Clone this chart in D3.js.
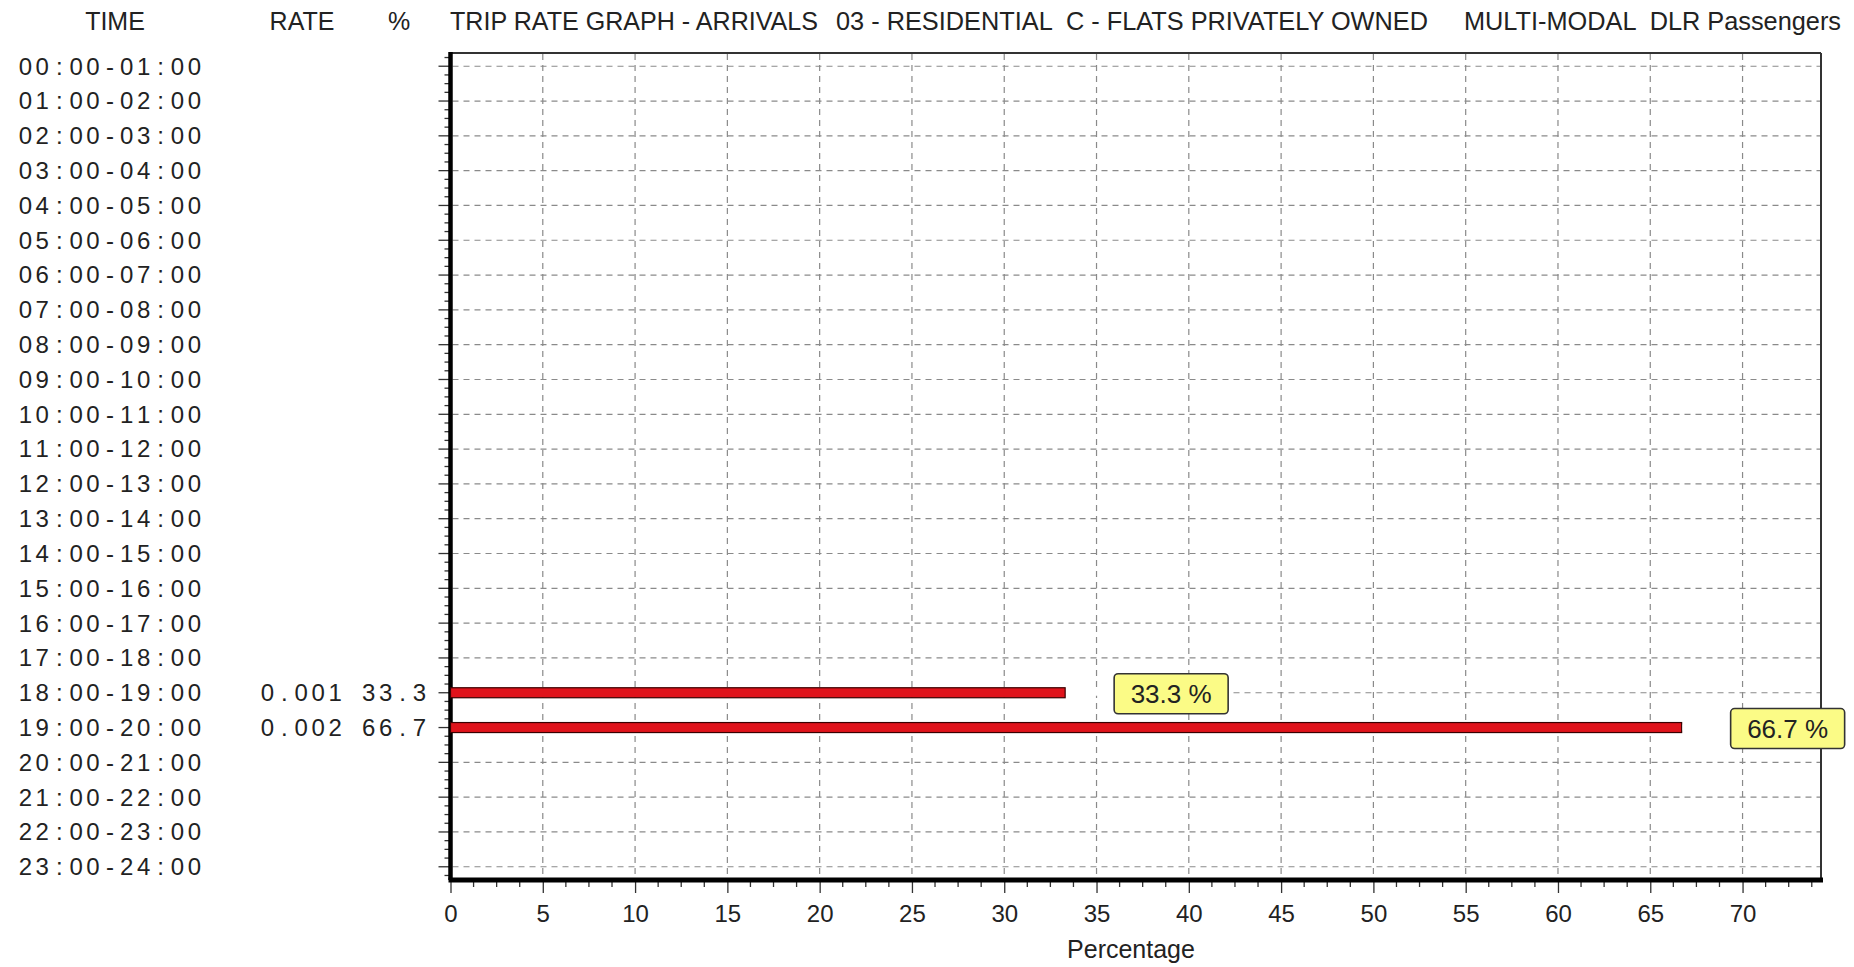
<!DOCTYPE html>
<html><head><meta charset="utf-8">
<script src="https://cdn.jsdelivr.net/npm/d3@7"></script>
<style>body{margin:0;background:#fff}svg{display:block}</style>
</head><body><svg id="c" width="1854" height="967"></svg>
<script>
// ---- data ----
const timeLabels = ["00:00-01:00","01:00-02:00","02:00-03:00","03:00-04:00","04:00-05:00","05:00-06:00",
  "06:00-07:00","07:00-08:00","08:00-09:00","09:00-10:00","10:00-11:00","11:00-12:00",
  "12:00-13:00","13:00-14:00","14:00-15:00","15:00-16:00","16:00-17:00","17:00-18:00",
  "18:00-19:00","19:00-20:00","20:00-21:00","21:00-22:00","22:00-23:00","23:00-24:00"];
const tripRates = [null,null,null,null,null,null,null,null,null,null,null,null,
  null,null,null,null,null,null,"0.001","0.002",null,null,null,null];
const percentages = [null,null,null,null,null,null,null,null,null,null,null,null,
  null,null,null,null,null,null,33.3,66.7,null,null,null,null];
const xTickValues = [0,5,10,15,20,25,30,35,40,45,50,55,60,65,70];
const xMax = 74.25;
const headerLabels = ["TIME","RATE","%"];
const titleParts = ["TRIP RATE GRAPH - ARRIVALS","03 - RESIDENTIAL  C - FLATS PRIVATELY OWNED","MULTI-MODAL  DLR Passengers"];
const xAxisTitle = "Percentage";

// ---- layout ----
const plot = {left:450.5, right:1821, top:53, bottom:880};
const svg = d3.select("#c");
svg.append("rect").attr("width",1854).attr("height",967).attr("fill","#fff");

const x = d3.scaleLinear().domain([0,xMax]).range([plot.left, plot.right]);
const y = d3.scalePoint().domain(timeLabels).range([plot.top, plot.bottom]).padding(0.38);
const step = y.step();

const sans = "'Liberation Sans', Arial, sans-serif";
const ink = "#222";

// headers
const headerX = [115, 302, 399];
svg.selectAll("text.hdr").data(headerLabels).join("text").attr("class","hdr")
  .attr("x",(d,i)=>headerX[i]).attr("y",30).attr("text-anchor","middle")
  .attr("font-family",sans).attr("font-size",25).attr("fill",ink).text(d=>d);

const titleX = [450, 836, 1464];
const titleW = [368, 592, 377];
svg.selectAll("text.ttl").data(titleParts).join("text").attr("class","ttl")
  .attr("x",(d,i)=>titleX[i]).attr("y",30)
  .attr("textLength",(d,i)=>titleW[i]).attr("lengthAdjust","spacingAndGlyphs")
  .attr("font-family",sans).attr("font-size",25).attr("fill",ink)
  .attr("xml:space","preserve").text(d=>d);

// gridlines
const grid = svg.append("g").attr("stroke","#8a8a8a").attr("stroke-width",1.2).attr("stroke-dasharray","6,5");
grid.selectAll("line.h").data(timeLabels).join("line").attr("class","h")
  .attr("x1",plot.left+2).attr("x2",plot.right-1)
  .attr("y1",d=>y(d)).attr("y2",d=>y(d));
grid.selectAll("line.v").data(xTickValues.filter(v=>v>0)).join("line").attr("class","v")
  .attr("x1",d=>x(d)).attr("x2",d=>x(d))
  .attr("y1",plot.top+1).attr("y2",plot.bottom-2);

// y ticks (major + minor)
const yt = svg.append("g").attr("stroke","#333").attr("stroke-width",1.3);
yt.selectAll("line.maj").data(timeLabels).join("line").attr("class","maj")
  .attr("x1",plot.left-12).attr("x2",plot.left).attr("y1",d=>y(d)).attr("y2",d=>y(d));
const minorY = [];
timeLabels.forEach((t,i)=>{
  [1,2,3].forEach(k=>minorY.push(y(t)+k*step/4));
  if(i===0) minorY.push(y(t)-step/4);
});
yt.selectAll("line.min").data(minorY.filter(v=>v>plot.top && v<plot.bottom-2)).join("line").attr("class","min")
  .attr("x1",plot.left-6).attr("x2",plot.left).attr("y1",d=>d).attr("y2",d=>d);

// x axis ticks
const xAxis = d3.axisBottom(x).tickValues(xTickValues).tickSize(13).tickPadding(12).tickFormat(d3.format("d"));
const gx = svg.append("g").attr("transform",`translate(0,${plot.bottom})`).call(xAxis);
gx.select(".domain").remove();
gx.selectAll(".tick line").attr("stroke","#333").attr("stroke-width",1.3);
gx.selectAll(".tick text").attr("font-family",sans).attr("font-size",24).attr("fill",ink);
const minorX = d3.range(0, xMax+0.001, 1.25).filter(v=>xTickValues.indexOf(v)<0);
svg.append("g").selectAll("line").data(minorX).join("line")
  .attr("x1",d=>x(d)).attr("x2",d=>x(d)).attr("y1",plot.bottom).attr("y2",plot.bottom+7)
  .attr("stroke","#333").attr("stroke-width",1.3);

// frame
svg.append("line").attr("x1",plot.left).attr("x2",plot.right).attr("y1",plot.top).attr("y2",plot.top)
  .attr("stroke","#333").attr("stroke-width",2);
svg.append("line").attr("x1",plot.right).attr("x2",plot.right).attr("y1",plot.top).attr("y2",plot.bottom)
  .attr("stroke","#333").attr("stroke-width",2);
svg.append("line").attr("x1",plot.left).attr("x2",plot.left).attr("y1",plot.top-1).attr("y2",plot.bottom)
  .attr("stroke","#000").attr("stroke-width",4.5);
svg.append("line").attr("x1",plot.left-2).attr("x2",plot.right+2).attr("y1",plot.bottom).attr("y2",plot.bottom)
  .attr("stroke","#000").attr("stroke-width",5);

// monospace-like text helper (per-character cells)
const pitch = 16.9;
function cellText(g, str, x0, yy){
  const xs = str.split("").map((c,i)=>(x0 + pitch*i + pitch/2).toFixed(1));
  g.append("text").attr("x",xs.join(" ")).attr("y",yy).attr("dy","0.35em")
    .attr("text-anchor","middle").attr("font-family",sans).attr("font-size",24)
    .attr("fill",ink).text(str);
}
const lab = svg.append("g");
timeLabels.forEach((t,i)=>{
  cellText(lab, t, 17, y(t));
  if(tripRates[i]!==null) cellText(lab, tripRates[i], 259, y(t));
  if(percentages[i]!==null) cellText(lab, percentages[i].toFixed(1), 259+6*pitch, y(t));
});

// bars
const barData = timeLabels.map((t,i)=>({t, v:percentages[i]})).filter(d=>d.v!==null);
svg.append("g").selectAll("rect").data(barData).join("rect")
  .attr("x",x(0)).attr("y",d=>y(d.t)-5).attr("width",d=>x(d.v)-x(0)).attr("height",10)
  .attr("fill","#e0131b").attr("stroke","#3a0000").attr("stroke-width",1.2);

// value labels
const lg = svg.append("g");
barData.forEach(d=>{
  const bx = x(d.v)+49, cy = y(d.t)+1;
  lg.append("rect").attr("x",x(d.v)+1).attr("y",y(d.t)-3).attr("width",bx-x(d.v)-1).attr("height",6).attr("fill","#fff");
  lg.append("rect").attr("x",bx).attr("y",cy-20).attr("width",114).attr("height",40).attr("rx",4)
    .attr("fill","#fbfb86").attr("stroke","#333").attr("stroke-width",1.6);
  lg.append("text").attr("x",bx+57).attr("y",cy).attr("dy","0.36em").attr("text-anchor","middle")
    .attr("font-family",sans).attr("font-size",25).attr("textLength",81).attr("lengthAdjust","spacingAndGlyphs")
    .attr("fill",ink).text(d.v.toFixed(1)+" %");
});

// axis title
svg.append("text").attr("x",1131).attr("y",949).attr("dy","0.36em").attr("text-anchor","middle")
  .attr("font-family",sans).attr("font-size",25).attr("fill",ink).text(xAxisTitle);
</script>
</body></html>
